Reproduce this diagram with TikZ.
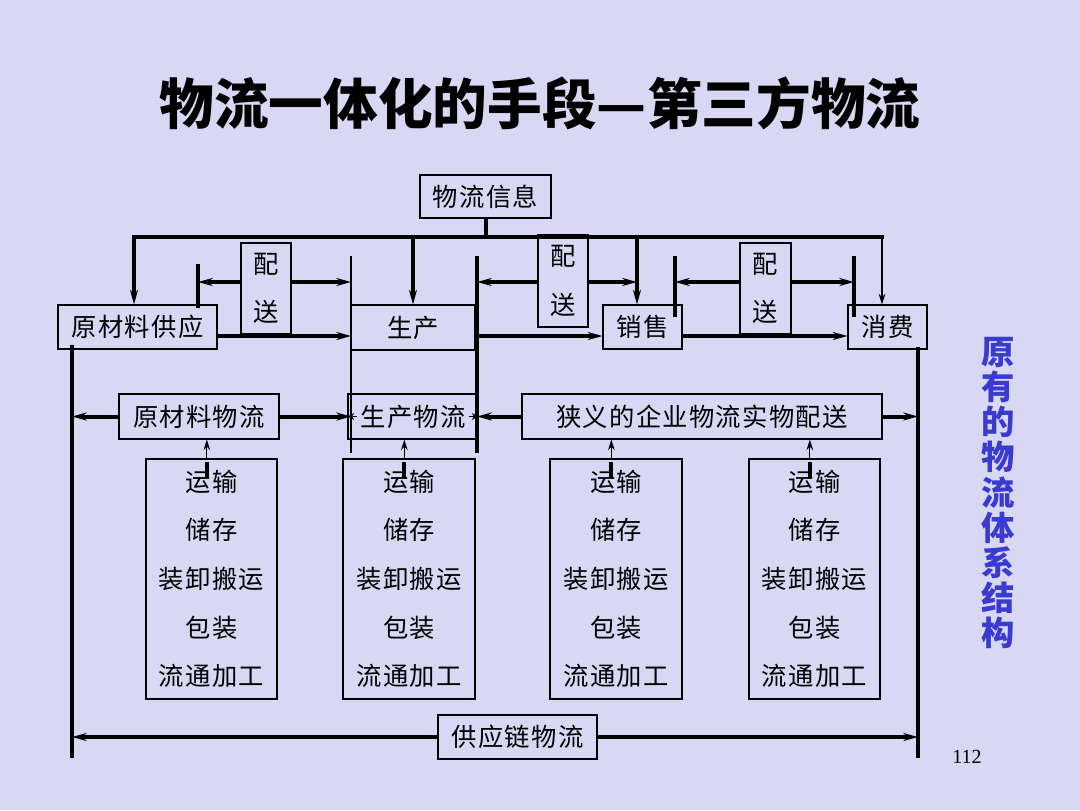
\documentclass[tikz,border=0pt]{standalone}
\usepackage{fontspec}
\usepackage{xcolor}
\usetikzlibrary{arrows.meta}
\setmainfont{Liberation Serif}
\newfontfamily\cjk{Noto Sans CJK SC}
\newfontfamily\cjkbox{Noto Sans CJK SC}[LetterSpace=5]
\definecolor{slidebg}{RGB}{216,216,245}
\definecolor{slideblue}{RGB}{58,58,208}

\begin{document}
\begin{tikzpicture}[x=0.75pt, y=-0.75pt,
	box/.style={draw, line width=0.8pt, inner sep=0pt, align=center, font=\cjkbox\fontsize{19}{36.5}\selectfont},
	bus/.style={line width=3pt},
	flow/.style={line width=3pt, -{Stealth[length=11pt, width=6pt]}},
	slim/.style={line width=0.9pt, -{Stealth[length=8pt, width=5pt]}},
	tiny/.style={line width=0.9pt, -{Stealth[length=5pt, width=5pt]}}]
	\fill[slidebg] (0,0) rectangle (1080,810);
	\useasboundingbox (0,0) rectangle (1080,810);

	\node[font=\cjk\bfseries\fontsize{41}{44}\selectfont] (title) at (540,103) {物流一体化的手段—第三方物流};
	\node[font=\cjk\bfseries\fontsize{25}{26.4}\selectfont, text=slideblue, align=center] (side) at (998,493) {原\\有\\的\\物\\流\\体\\系\\结\\构};
	\node[font=\fontsize{15}{18}\selectfont] (page) at (967,757) {112};

	% boxes
	\node[box, minimum width=98.25pt, minimum height=32.25pt] (info) at (485.5,196.5) {物流信息};
	\node[box, minimum width=119.25pt, minimum height=33pt] (src) at (137.5,327) {原材料供应};
	\node[box, minimum width=93pt, minimum height=33.75pt] (prod) at (413,327.5) {生产};
	\node[box, minimum width=59.25pt, minimum height=33pt] (sale) at (642.5,327) {销售};
	\node[box, minimum width=59.25pt, minimum height=33pt] (cons) at (887.5,327) {消费};
	\node[box, minimum width=37.5pt, minimum height=68.25pt] (ps1) at (266,288.5) {配\\送};
	\node[box, minimum width=37.5pt, minimum height=69pt] (ps2) at (563,281) {配\\送};
	\node[box, minimum width=38.25pt, minimum height=68.25pt] (ps3) at (765.5,288.5) {配\\送};

	\node[box, minimum width=120pt, minimum height=33.75pt] (mflow) at (199,416.5) {原材料物流};
	\node[box, minimum width=97.5pt, minimum height=33.75pt] (pflow) at (413,416.5) {生产物流};
	\node[box, minimum width=270pt, minimum height=33.75pt] (dflow) at (702,416.5) {狭义的企业物流实物配送};

	\node[box, minimum width=98.25pt, minimum height=180pt] (opA) at (211.5,579) {运输\\储存\\装卸搬运\\包装\\流通加工};
	\node[box, minimum width=99pt, minimum height=180pt] (opB) at (409,579) {运输\\储存\\装卸搬运\\包装\\流通加工};
	\node[box, minimum width=99pt, minimum height=180pt] (opC) at (616,579) {运输\\储存\\装卸搬运\\包装\\流通加工};
	\node[box, minimum width=98.25pt, minimum height=180pt] (opD) at (814.5,579) {运输\\储存\\装卸搬运\\包装\\流通加工};

	\node[box, minimum width=119.25pt, minimum height=33pt] (chain) at (517.5,737) {供应链物流};

	% bus lines and bars
	\coordinate (busL) at (134,237);
	\coordinate (busR) at (882,237);
	\coordinate (busS) at (637,237);
	\coordinate (barA) at (198,264);
	\coordinate (lineP) at (351,256);
	\coordinate (barP) at (477,256);
	\coordinate (barS) at (675,256);
	\coordinate (barC) at (854,256);
	\coordinate (leftT) at (72,345);
	\coordinate (rightT) at (918,347);
	\coordinate (upper) at (0,282);
	\coordinate (lower) at (0,336);

	\draw[bus] (info.south) -- (info.south |- busL);
	\draw[bus, line cap=rect] (busL) -- (busR);
	\draw[bus] (barA) -- ++(0,44);
	\draw[line width=0.9pt] (lineP) -- ++(0,197);
	\draw[bus] (barP) -- ++(0,197);
	\draw[bus] (barS) -- ++(0,61);
	\draw[bus] (barC) -- ++(0,61);
	\draw[bus] (leftT) -- ++(0,413);
	\draw[bus] (rightT) -- ++(0,411);

	% Draw the arrows between boxes and bars
	\draw[flow] (busL) -- (busL |- src.north);
	\draw[flow] (prod.north |- busL) -- (prod.north);
	\draw[flow] (busS) -- (busS |- sale.north);
	\draw[slim] (busR) -- (busR |- cons.north);

	\draw[flow] (ps1.west |- upper) -- (barA |- upper);
	\draw[flow] (ps1.east |- upper) -- (lineP |- upper);
	\draw[flow] (ps2.west |- upper) -- (barP |- upper);
	\draw[flow] (ps2.east |- upper) -- (busS |- upper);
	\draw[flow] (ps3.west |- upper) -- (barS |- upper);
	\draw[flow] (ps3.east |- upper) -- (barC |- upper);

	\draw[flow] (src.east |- lower) -- (lineP |- lower);
	\draw[flow] (barP |- lower) -- (sale.west |- lower);
	\draw[flow] (sale.east |- lower) -- (cons.west |- lower);

	\draw[flow] (mflow.west) -- (leftT |- mflow.west);
	\draw[flow] (mflow.east) -- (lineP |- mflow.east);
	\draw[tiny] ([xshift=7pt]pflow.west) -- (pflow.west);
	\draw[tiny] ([xshift=-7pt]pflow.east) -- (pflow.east);
	\draw[flow] (dflow.west) -- (barP |- dflow.west);
	\draw[flow] (dflow.east) -- (rightT |- dflow.east);

	\foreach \op/\mid in {opA/mflow, opB/pflow, opC/dflow, opD/dflow} {
		\coordinate (t) at ([xshift=-3.5pt]\op.north);
		\draw[slim] (t) -- (t |- \mid.south);
		\draw[bus] ([yshift=-3pt]t) -- ([yshift=-15pt]t);
	}

	\draw[flow] (chain.west) -- (leftT |- chain.west);
	\draw[flow] (chain.east) -- (rightT |- chain.east);
\end{tikzpicture}
\end{document}
